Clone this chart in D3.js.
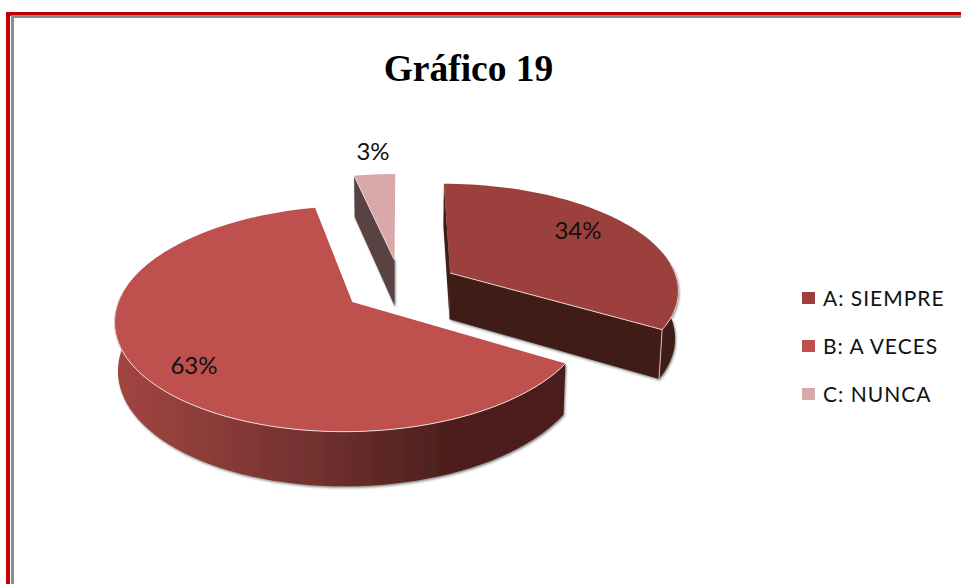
<!DOCTYPE html>
<html><head><meta charset="utf-8">
<script src="https://cdn.jsdelivr.net/npm/d3@7"></script>
<style>html,body{margin:0;padding:0;background:#fff}svg{display:block}</style>
</head><body><div id="c"></div>
<script>
const title = "Gráfico 19";
const categories = ["A: SIEMPRE", "B: A VECES", "C: NUNCA"];
const shares = [33.6, 63, 3.4];
const labels = ["34%", "63%", "3%"];

const palette = ["#9c403d", "#be504e", "#d9a8a8"];
const radial = ["#411a18", "#411a18", "#5a4343"];
const W = 961, H = 584;
const cx = 400.5, cy = 286, Ax = 236, Ay = 109, persp = 0.15, explode = 0.246, radius = 0.97, depth = 47, shrink = 0.988;

const svg = d3.select("#c").append("svg").attr("width", W).attr("height", H);
const defs = svg.append("defs");
const sh = defs.append("filter").attr("id","sh").attr("x","-10%").attr("y","-10%").attr("width","120%").attr("height","125%");
sh.append("feDropShadow").attr("dx",1).attr("dy",1.5).attr("stdDeviation",1.2).attr("flood-color","#555").attr("flood-opacity",0.7);
const grad = defs.append("linearGradient").attr("id","wall").attr("gradientUnits","userSpaceOnUse")
  .attr("x1",115).attr("x2",570).attr("y1",0).attr("y2",0);
[[0,"#a24542"],[0.25,"#873a37"],[0.5,"#6a2d2b"],[0.72,"#4e1f1e"],[1,"#4b1e1d"]]
  .forEach(([o,c]) => grad.append("stop").attr("offset",o).attr("stop-color",c));

// frame
svg.append("rect").attr("x",6).attr("y",12).attr("width",W).attr("height",4).attr("fill","#c00000");
svg.append("rect").attr("x",6).attr("y",12).attr("width",4).attr("height",H).attr("fill","#c00000");
svg.append("rect").attr("x",11).attr("y",15).attr("width",W).attr("height",3).attr("fill","#8c8c8c");
svg.append("rect").attr("x",11).attr("y",15).attr("width",3).attr("height",H).attr("fill","#8c8c8c");

svg.append("text").text(title).attr("x",468.5).attr("y",81).attr("text-anchor","middle")
  .attr("font-family","'Liberation Serif'").attr("font-weight","bold").attr("font-size",37.5).attr("fill","#000");

const slices = d3.pie().sort(null).value(d => d)(shares);

// perspective projection of a point of the disc; level 0 = top face, 1 = bottom face
function project(X, Y, level) {
  const s = 1 / (1 + persp * Y);
  const k = level ? shrink : 1;
  return [cx + Ax * X * s * k, cy - Ay * Y * s * k + level * depth * s];
}
const line = d3.line();
function geometry(sl) {
  const mid = (sl.startAngle + sl.endAngle) / 2;
  const ox = explode * Math.sin(mid), oy = explode * Math.cos(mid);
  const rim = (a, l) => project(ox + radius * Math.sin(a), oy + radius * Math.cos(a), l);
  const apex = l => project(ox, oy, l);
  const arc = (a0, a1, l) => d3.range(0, 61).map(i => rim(a0 + (a1 - a0) * i / 60, l));
  return {rim, apex, arc};
}
const deg = Math.PI / 180;
const order = [2, 0, 1];
const g = svg.append("g");
order.forEach(i => {
  const sl = slices[i], geo = geometry(sl), a0 = sl.startAngle, a1 = sl.endAngle;
  const walls = g.append("g").attr("filter","url(#sh)");
  // radial walls facing the viewer
  if (i === 0 || i === 2) {
    walls.append("path").attr("fill", radial[i])
      .attr("d", line([geo.apex(0), geo.rim(a0,0), geo.rim(a0,1), geo.apex(1)]) + "Z");
  }
  if (i === 0) {
    walls.append("path").attr("fill", radial[i])
      .attr("d", line([geo.apex(0), geo.rim(a1,0), geo.rim(a1,1), geo.apex(1)]) + "Z");
    const t = geo.arc(85*deg, a1, 0), b = geo.arc(85*deg, a1, 1).reverse();
    walls.append("path").attr("fill", radial[i]).attr("d", line(t.concat(b)) + "Z");
  }
  if (i === 1) {
    const t = geo.arc(a0, 275*deg, 0), b = geo.arc(a0, 275*deg, 1).reverse();
    walls.append("path").attr("fill", "url(#wall)").attr("d", line(t.concat(b)) + "Z");
  }
  // top face
  g.append("path").attr("fill", palette[i])
    .attr("d", line([geo.apex(0)].concat(geo.arc(a0, a1, 0))) + "Z");
  // light rim on the front edges
  if (i !== 2) {
    const from = i === 1 ? a0 : 85*deg, to = i === 1 ? 275*deg : a1;
    g.append("path").attr("fill","none").attr("stroke","#eed9d8").attr("stroke-width",1)
      .attr("d", line(geo.arc(from, to, 0)));
  }
  if (i === 0) {
    g.append("path").attr("fill","none").attr("stroke","#e6cfce").attr("stroke-width",1)
      .attr("d", line([geo.apex(0), geo.rim(a1,0)]));
    g.append("path").attr("fill","none").attr("stroke","#d8c4c3").attr("stroke-width",1)
      .attr("d", line([geo.rim(a1,0), geo.rim(a1,1)]));
  }
  if (i === 2) {
    g.append("path").attr("fill","none").attr("stroke","#e6d6d6").attr("stroke-width",1)
      .attr("d", line([geo.apex(0), geo.rim(a0,0)]));
  }
});

const sans = "Lato, 'Open Sans', sans-serif";
const labelAt = [[578,239],[194,374],[373,160]];
labels.forEach((t,i) => svg.append("text").text(t).attr("x",labelAt[i][0]).attr("y",labelAt[i][1])
  .attr("text-anchor","middle").attr("font-family",sans).attr("font-size",24).attr("fill","#111"));

// legend
const color = d3.scaleOrdinal().domain(categories).range(palette);
const ly = d3.scalePoint().domain(categories).range([298, 394]);
const leg = svg.append("g").selectAll("g").data(categories).join("g");
leg.append("rect").attr("x",802).attr("y",d => ly(d)-6).attr("width",13).attr("height",12).attr("fill",d => color(d));
leg.append("text").text(d => d).attr("x",823).attr("y",d => ly(d)+8)
  .attr("font-family",sans).attr("font-size",21).attr("letter-spacing",1).attr("fill","#111");
</script></body></html>
